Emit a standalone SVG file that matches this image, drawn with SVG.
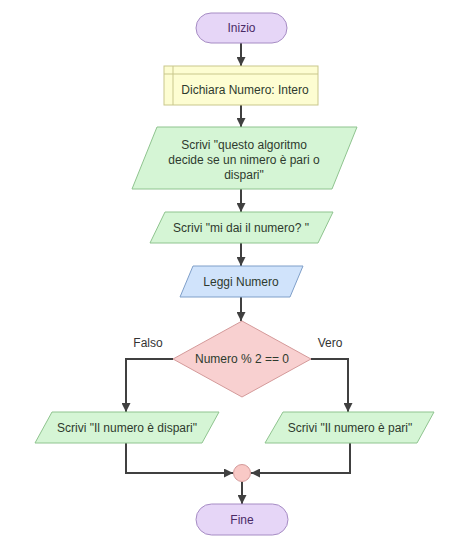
<svg xmlns="http://www.w3.org/2000/svg" width="474" height="554" viewBox="0 0 474 554">
<defs>
<marker id="ah" viewBox="0 0 10 10" refX="10" refY="5" markerWidth="9" markerHeight="9" markerUnits="userSpaceOnUse" orient="auto">
<path d="M0,0 L10,5 L0,10 z" fill="#404040"/>
</marker>
<style>
text{font-family:"Liberation Sans",Arial,sans-serif;font-size:12px;text-anchor:middle;dominant-baseline:central}
.term{fill:#e6d6f7;stroke:#a68cc4;stroke-width:1}
.term-t{fill:#4a2a66}
.decl{fill:#fdfdd2;stroke:#c9c78c;stroke-width:1}
.out{fill:#d5f5d5;stroke:#8fc48f;stroke-width:1}
.inp{fill:#d0e3fb;stroke:#7f9fc9;stroke-width:1}
.dec{fill:#f8d0d0;stroke:#d49a9a;stroke-width:1}
.t{fill:#2e3a2e}
.lbl{fill:#333}
.c{fill:none;stroke:#404040;stroke-width:2;marker-end:url(#ah)}
</style>
</defs>
<rect width="474" height="554" fill="#ffffff"/>
<g id="connectors">
<path class="c" d="M241,43 V66"/>
<path class="c" d="M241,105 V127"/>
<path class="c" d="M241,189 V212"/>
<path class="c" d="M241,243 V266"/>
<path class="c" d="M241,297 V321"/>
<path class="c" d="M173,359 H126 V412"/>
<path class="c" d="M311,359 H348 V412"/>
<path class="c" d="M126,443 V473 H233"/>
<path class="c" d="M350,443 V473 H251"/>
<path class="c" d="M242,482 V504"/>
<text class="lbl" x="148" y="343">Falso</text>
<text class="lbl" x="330" y="343">Vero</text>
</g>
<g id="inizio">
<rect class="term" x="196" y="13" width="91" height="30" rx="15"/>
<text class="term-t" x="241.5" y="28">Inizio</text>
</g>
<g id="dichiara">
<rect class="decl" x="164" y="66" width="154" height="39"/>
<path class="decl" d="M173,66 V105 M164,74 H318" fill="none"/>
<text class="t" x="245" y="90">Dichiara Numero: Intero</text>
</g>
<g id="scrivi1">
<polygon class="out" points="157,127 357,127 332,189 132,189"/>
<text class="t" x="244" y="145">Scrivi "questo algoritmo</text>
<text class="t" x="244" y="160">decide se un nimero è pari o</text>
<text class="t" x="244" y="175">dispari"</text>
</g>
<g id="scrivi2">
<polygon class="out" points="165,212 333,212 318,243 150,243"/>
<text class="t" x="241" y="228">Scrivi "mi dai il numero? "</text>
</g>
<g id="leggi">
<polygon class="inp" points="193,266 303,266 290,297 180,297"/>
<text class="t" x="241" y="282">Leggi Numero</text>
</g>
<g id="decisione">
<polygon class="dec" points="242,321 311,359 242,397 173,359"/>
<text class="t" x="242" y="359">Numero % 2 == 0</text>
</g>
<g id="dispari">
<polygon class="out" points="52,412 219,412 202,443 35,443"/>
<text class="t" x="127" y="428">Scrivi "Il numero è dispari"</text>
</g>
<g id="pari">
<polygon class="out" points="283,412 434,412 417,443 265,443"/>
<text class="t" x="350" y="428">Scrivi "Il numero è pari"</text>
</g>
<g id="join">
<circle cx="242" cy="473" r="8.5" fill="#f9c9c6" stroke="#d49a9a" stroke-width="1"/>
</g>
<g id="fine">
<rect class="term" x="196" y="504" width="92" height="31" rx="15.5"/>
<text class="term-t" x="242" y="520">Fine</text>
</g>
</svg>
